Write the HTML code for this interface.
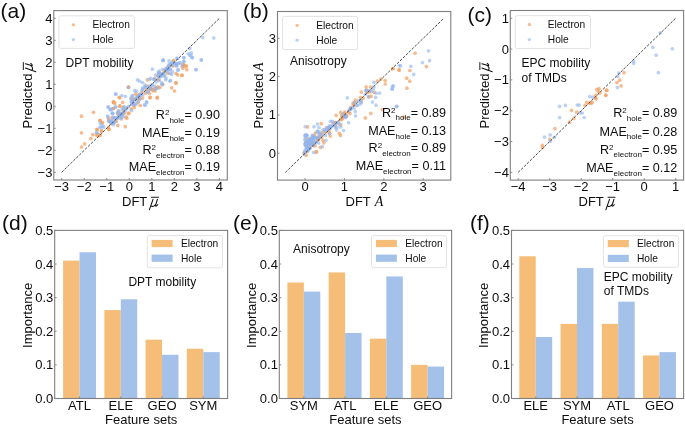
<!DOCTYPE html>
<html><head><meta charset="utf-8"><style>
html,body{margin:0;padding:0;background:#fff;}
svg{display:block;font-family:"Liberation Sans", sans-serif;fill:#0d0d0d;will-change:transform;}
</style></head><body>
<svg width="685" height="425" viewBox="0 0 685 425">
<rect x="53.8" y="10.6" width="173.5" height="169.4" fill="#fff"/>
<rect x="277.5" y="11.5" width="173.3" height="168.6" fill="#fff"/>
<rect x="510.3" y="10.5" width="173.3" height="169.6" fill="#fff"/>
<rect x="54.7" y="230.4" width="172.9" height="168.1" fill="#fff"/>
<rect x="279.3" y="230.4" width="172.3" height="168.1" fill="#fff"/>
<rect x="511.5" y="230.4" width="172.1" height="168.1" fill="#fff"/>
<g fill="#f2a060" fill-opacity="0.7"><circle cx="81.5" cy="116.2" r="1.85"/><circle cx="93.5" cy="112.3" r="1.85"/><circle cx="81.5" cy="132.8" r="1.85"/><circle cx="100" cy="120.5" r="1.85"/><circle cx="97" cy="129.6" r="1.85"/><circle cx="92.8" cy="134.6" r="1.85"/><circle cx="90.8" cy="138.4" r="1.85"/><circle cx="84.7" cy="143.8" r="1.85"/><circle cx="81.5" cy="147" r="1.85"/><circle cx="98.1" cy="136" r="1.85"/><circle cx="101.6" cy="131" r="1.85"/><circle cx="102.4" cy="122.6" r="1.85"/><circle cx="108.7" cy="128.9" r="1.85"/><circle cx="108.7" cy="121.2" r="1.85"/><circle cx="113.4" cy="108.5" r="1.85"/><circle cx="113.6" cy="102.1" r="1.85"/><circle cx="115" cy="118.4" r="1.85"/><circle cx="117.9" cy="114.1" r="1.85"/><circle cx="100.2" cy="135.3" r="1.85"/><circle cx="147.4" cy="79.8" r="1.85"/><circle cx="128.4" cy="86.8" r="1.85"/><circle cx="119.2" cy="97.4" r="1.85"/><circle cx="113.5" cy="102.4" r="1.85"/><circle cx="150.2" cy="97.4" r="1.85"/><circle cx="157.3" cy="97.4" r="1.85"/><circle cx="152.4" cy="89.6" r="1.85"/><circle cx="155.2" cy="88.2" r="1.85"/><circle cx="148.1" cy="86.1" r="1.85"/><circle cx="135.4" cy="93.9" r="1.85"/><circle cx="131.2" cy="98.8" r="1.85"/><circle cx="134" cy="105.2" r="1.85"/><circle cx="119.9" cy="105.9" r="1.85"/><circle cx="128.4" cy="113.6" r="1.85"/><circle cx="126.2" cy="117.2" r="1.85"/><circle cx="158" cy="86.8" r="1.85"/><circle cx="164.4" cy="70.6" r="1.85"/><circle cx="142.5" cy="98.1" r="1.85"/><circle cx="138.2" cy="102.4" r="1.85"/><circle cx="122.7" cy="102.4" r="1.85"/><circle cx="173.8" cy="61" r="1.85"/><circle cx="173" cy="65.9" r="1.85"/><circle cx="186" cy="65.9" r="1.85"/><circle cx="186.8" cy="69.7" r="1.85"/><circle cx="182.9" cy="68.2" r="1.85"/><circle cx="182.9" cy="64.4" r="1.85"/><circle cx="176.1" cy="73.5" r="1.85"/><circle cx="177.6" cy="74.8" r="1.85"/><circle cx="182.2" cy="75.1" r="1.85"/><circle cx="176.1" cy="82.7" r="1.85"/><circle cx="166.9" cy="68.9" r="1.85"/><circle cx="164.6" cy="72" r="1.85"/><circle cx="181.8" cy="75.5" r="1.85"/><circle cx="186.1" cy="66.3" r="1.85"/><circle cx="183.9" cy="64.9" r="1.85"/><circle cx="175.9" cy="83.2" r="1.85"/><circle cx="171.7" cy="87.8" r="1.85"/><circle cx="174.5" cy="91" r="1.85"/><circle cx="157.1" cy="98.1" r="1.85"/><circle cx="155" cy="91" r="1.85"/><circle cx="173.4" cy="60.6" r="1.85"/><circle cx="159.2" cy="73.4" r="1.85"/><circle cx="158.5" cy="80.4" r="1.85"/><circle cx="159.9" cy="87.5" r="1.85"/><circle cx="128.6" cy="87.5" r="1.85"/><circle cx="119.7" cy="97.7" r="1.85"/><circle cx="113.4" cy="101.9" r="1.85"/><circle cx="114.8" cy="103.4" r="1.85"/><circle cx="113.4" cy="108.3" r="1.85"/><circle cx="119.7" cy="106.2" r="1.85"/><circle cx="126.8" cy="118.2" r="1.85"/><circle cx="128.9" cy="113.2" r="1.85"/><circle cx="140.2" cy="105.5" r="1.85"/><circle cx="150" cy="97.7" r="1.85"/><circle cx="149.4" cy="93.5" r="1.85"/><circle cx="108.4" cy="118.9" r="1.85"/><circle cx="111.9" cy="117.5" r="1.85"/><circle cx="117.6" cy="113.2" r="1.85"/><circle cx="99.9" cy="120.3" r="1.85"/><circle cx="102.1" cy="123.1" r="1.85"/><circle cx="97.1" cy="129.4" r="1.85"/><circle cx="101.4" cy="130.9" r="1.85"/><circle cx="108.4" cy="127.4" r="1.85"/><circle cx="109.1" cy="129.5" r="1.85"/><circle cx="98.5" cy="134.4" r="1.85"/><circle cx="96.4" cy="135.1" r="1.85"/><circle cx="133.1" cy="99.1" r="1.85"/><circle cx="137.4" cy="95.6" r="1.85"/><circle cx="152.9" cy="90.6" r="1.85"/><circle cx="150.8" cy="89.2" r="1.85"/><circle cx="134.4" cy="107.4" r="1.85"/><circle cx="117.8" cy="125.4" r="1.85"/><circle cx="146.1" cy="89.9" r="1.85"/><circle cx="145.5" cy="93.3" r="1.85"/><circle cx="111.1" cy="123.4" r="1.85"/><circle cx="116.2" cy="121.2" r="1.85"/><circle cx="139.7" cy="98.8" r="1.85"/><circle cx="123.7" cy="110.5" r="1.85"/><circle cx="156.6" cy="88.0" r="1.85"/><circle cx="135.9" cy="98.8" r="1.85"/><circle cx="182.7" cy="66.2" r="1.85"/><circle cx="131.2" cy="108.9" r="1.85"/><circle cx="121.3" cy="119.0" r="1.85"/><circle cx="167.9" cy="73.3" r="1.85"/><circle cx="118.6" cy="111.1" r="1.85"/><circle cx="133.4" cy="99.7" r="1.85"/><circle cx="148.5" cy="90.7" r="1.85"/><circle cx="124.2" cy="113.3" r="1.85"/><circle cx="154.6" cy="78.6" r="1.85"/><circle cx="151.3" cy="88.3" r="1.85"/><circle cx="139.5" cy="94.6" r="1.85"/><circle cx="162.8" cy="84.4" r="1.85"/><circle cx="123.4" cy="107.3" r="1.85"/><circle cx="168.8" cy="66.0" r="1.85"/><circle cx="158.4" cy="75.6" r="1.85"/><circle cx="125.3" cy="126.7" r="1.85"/><circle cx="138.6" cy="98.7" r="1.85"/><circle cx="141.9" cy="92.1" r="1.85"/></g>
<g fill="#8fb4ee" fill-opacity="0.6"><circle cx="108" cy="107.1" r="1.85"/><circle cx="110.1" cy="109.9" r="1.85"/><circle cx="115.8" cy="107.1" r="1.85"/><circle cx="112.2" cy="113.4" r="1.85"/><circle cx="108" cy="117" r="1.85"/><circle cx="109.4" cy="121.2" r="1.85"/><circle cx="100.2" cy="123.3" r="1.85"/><circle cx="101" cy="126.8" r="1.85"/><circle cx="103" cy="126.1" r="1.85"/><circle cx="97" cy="133.2" r="1.85"/><circle cx="113.6" cy="122.6" r="1.85"/><circle cx="117.2" cy="118.4" r="1.85"/><circle cx="162.9" cy="60.7" r="1.85"/><circle cx="152.4" cy="69.2" r="1.85"/><circle cx="167.9" cy="67.1" r="1.85"/><circle cx="137.5" cy="79.8" r="1.85"/><circle cx="139.6" cy="81.2" r="1.85"/><circle cx="142.5" cy="82.6" r="1.85"/><circle cx="128.4" cy="87.5" r="1.85"/><circle cx="115.6" cy="93.9" r="1.85"/><circle cx="134.7" cy="90.4" r="1.85"/><circle cx="142.5" cy="88.9" r="1.85"/><circle cx="150.9" cy="78.4" r="1.85"/><circle cx="152.4" cy="84.7" r="1.85"/><circle cx="159.4" cy="72.7" r="1.85"/><circle cx="162.2" cy="84" r="1.85"/><circle cx="159.4" cy="79.8" r="1.85"/><circle cx="145.3" cy="87.5" r="1.85"/><circle cx="146.7" cy="102.4" r="1.85"/><circle cx="145.3" cy="105.2" r="1.85"/><circle cx="124.1" cy="106.6" r="1.85"/><circle cx="126.9" cy="108" r="1.85"/><circle cx="111.4" cy="109.4" r="1.85"/><circle cx="112.8" cy="113.6" r="1.85"/><circle cx="122.7" cy="115.1" r="1.85"/><circle cx="131.2" cy="101" r="1.85"/><circle cx="138.2" cy="96.7" r="1.85"/><circle cx="140.4" cy="95.3" r="1.85"/><circle cx="148.1" cy="91.8" r="1.85"/><circle cx="155.2" cy="89.6" r="1.85"/><circle cx="165.8" cy="79.8" r="1.85"/><circle cx="118.5" cy="110.8" r="1.85"/><circle cx="202.8" cy="37.6" r="1.85"/><circle cx="213.8" cy="37.9" r="1.85"/><circle cx="189.8" cy="48.3" r="1.85"/><circle cx="188.3" cy="53.6" r="1.85"/><circle cx="191.4" cy="52.9" r="1.85"/><circle cx="192.1" cy="57.5" r="1.85"/><circle cx="189.8" cy="55.2" r="1.85"/><circle cx="163.1" cy="60.1" r="1.85"/><circle cx="183.7" cy="57.5" r="1.85"/><circle cx="183.7" cy="61.6" r="1.85"/><circle cx="201.3" cy="59.8" r="1.85"/><circle cx="195.9" cy="69.7" r="1.85"/><circle cx="176.8" cy="58.2" r="1.85"/><circle cx="179.1" cy="62.8" r="1.85"/><circle cx="176.8" cy="65.9" r="1.85"/><circle cx="168.4" cy="65.9" r="1.85"/><circle cx="170.7" cy="64.4" r="1.85"/><circle cx="182.2" cy="65.9" r="1.85"/><circle cx="178.4" cy="69.7" r="1.85"/><circle cx="169.9" cy="73.5" r="1.85"/><circle cx="171.5" cy="74.3" r="1.85"/><circle cx="166.1" cy="78.1" r="1.85"/><circle cx="169.9" cy="81.2" r="1.85"/><circle cx="162.3" cy="73.5" r="1.85"/><circle cx="160.8" cy="76.6" r="1.85"/><circle cx="163.8" cy="75.8" r="1.85"/><circle cx="161.5" cy="82.7" r="1.85"/><circle cx="196" cy="69.5" r="1.85"/><circle cx="201.3" cy="60" r="1.85"/><circle cx="163.2" cy="60.2" r="1.85"/><circle cx="177.6" cy="58.5" r="1.85"/><circle cx="183.9" cy="57.8" r="1.85"/><circle cx="183.9" cy="61.4" r="1.85"/><circle cx="191" cy="55.7" r="1.85"/><circle cx="192.4" cy="57.8" r="1.85"/><circle cx="178.3" cy="63.5" r="1.85"/><circle cx="180.4" cy="62.8" r="1.85"/><circle cx="176.2" cy="65.6" r="1.85"/><circle cx="170.5" cy="69.8" r="1.85"/><circle cx="172.6" cy="71.9" r="1.85"/><circle cx="177.6" cy="70.2" r="1.85"/><circle cx="170.5" cy="80.4" r="1.85"/><circle cx="162" cy="84.6" r="1.85"/><circle cx="157.8" cy="88.2" r="1.85"/><circle cx="115.9" cy="94.2" r="1.85"/><circle cx="121.8" cy="95.6" r="1.85"/><circle cx="125.4" cy="96.3" r="1.85"/><circle cx="108.4" cy="106.9" r="1.85"/><circle cx="110.5" cy="109" r="1.85"/><circle cx="112.6" cy="113.2" r="1.85"/><circle cx="115.5" cy="106.9" r="1.85"/><circle cx="131.7" cy="110.4" r="1.85"/><circle cx="132.4" cy="95.6" r="1.85"/><circle cx="136.6" cy="91.4" r="1.85"/><circle cx="143" cy="87.8" r="1.85"/><circle cx="146.5" cy="101.9" r="1.85"/><circle cx="144.4" cy="104.8" r="1.85"/><circle cx="107.7" cy="116.1" r="1.85"/><circle cx="109.1" cy="121" r="1.85"/><circle cx="99.9" cy="127.4" r="1.85"/><circle cx="103.5" cy="127.4" r="1.85"/><circle cx="96.4" cy="132.3" r="1.85"/><circle cx="114.1" cy="123.1" r="1.85"/><circle cx="111.5" cy="120.8" r="1.85"/><circle cx="145.2" cy="86.1" r="1.85"/><circle cx="166.0" cy="68.3" r="1.85"/><circle cx="150.7" cy="88.9" r="1.85"/><circle cx="145.2" cy="85.2" r="1.85"/><circle cx="172.1" cy="65.5" r="1.85"/><circle cx="140.6" cy="94.3" r="1.85"/><circle cx="155.2" cy="79.7" r="1.85"/><circle cx="154.7" cy="86.2" r="1.85"/><circle cx="128.5" cy="106.4" r="1.85"/><circle cx="135.0" cy="99.9" r="1.85"/><circle cx="139.8" cy="95.0" r="1.85"/><circle cx="121.4" cy="114.2" r="1.85"/><circle cx="160.3" cy="76.3" r="1.85"/><circle cx="118.6" cy="116.3" r="1.85"/><circle cx="168.0" cy="70.8" r="1.85"/><circle cx="113.7" cy="117.6" r="1.85"/><circle cx="167.9" cy="69.2" r="1.85"/><circle cx="164.0" cy="73.5" r="1.85"/><circle cx="136.2" cy="97.4" r="1.85"/><circle cx="136.0" cy="104.5" r="1.85"/><circle cx="117.6" cy="112.5" r="1.85"/><circle cx="121.7" cy="113.4" r="1.85"/><circle cx="142.6" cy="94.9" r="1.85"/><circle cx="148.3" cy="87.2" r="1.85"/><circle cx="137.4" cy="98.1" r="1.85"/><circle cx="130.9" cy="97.9" r="1.85"/><circle cx="153.5" cy="79.4" r="1.85"/><circle cx="142.0" cy="90.3" r="1.85"/><circle cx="112.3" cy="119.6" r="1.85"/><circle cx="169.0" cy="68.2" r="1.85"/><circle cx="159.1" cy="71.2" r="1.85"/><circle cx="135.1" cy="99.1" r="1.85"/><circle cx="151.6" cy="84.8" r="1.85"/><circle cx="115.1" cy="121.4" r="1.85"/><circle cx="121.1" cy="114.6" r="1.85"/><circle cx="132.2" cy="103.0" r="1.85"/><circle cx="120.0" cy="114.9" r="1.85"/><circle cx="116.5" cy="117.8" r="1.85"/><circle cx="167.0" cy="69.5" r="1.85"/><circle cx="150.6" cy="86.3" r="1.85"/><circle cx="133.5" cy="103.4" r="1.85"/><circle cx="135.7" cy="103.4" r="1.85"/><circle cx="176.4" cy="63.7" r="1.85"/><circle cx="139.8" cy="94.4" r="1.85"/><circle cx="116.9" cy="118.1" r="1.85"/><circle cx="132.1" cy="102.6" r="1.85"/><circle cx="123.2" cy="116.9" r="1.85"/><circle cx="113.3" cy="124.7" r="1.85"/><circle cx="119.1" cy="114.7" r="1.85"/><circle cx="147.0" cy="91.9" r="1.85"/><circle cx="173.8" cy="63.0" r="1.85"/><circle cx="165.7" cy="69.6" r="1.85"/><circle cx="132.9" cy="100.2" r="1.85"/><circle cx="121.2" cy="114.1" r="1.85"/><circle cx="158.9" cy="73.5" r="1.85"/><circle cx="132.0" cy="104.1" r="1.85"/><circle cx="176.5" cy="64.8" r="1.85"/><circle cx="166.3" cy="71.5" r="1.85"/><circle cx="155.7" cy="75.2" r="1.85"/><circle cx="123.6" cy="108.8" r="1.85"/><circle cx="111.9" cy="122.5" r="1.85"/><circle cx="111.8" cy="122.5" r="1.85"/><circle cx="156.1" cy="81.8" r="1.85"/><circle cx="169.0" cy="60.9" r="1.85"/><circle cx="175.2" cy="63.2" r="1.85"/><circle cx="171.4" cy="63.5" r="1.85"/><circle cx="125.6" cy="110.9" r="1.85"/><circle cx="123.5" cy="112.6" r="1.85"/><circle cx="170.4" cy="69.5" r="1.85"/><circle cx="162.6" cy="69.3" r="1.85"/><circle cx="162.2" cy="74.2" r="1.85"/><circle cx="114.0" cy="117.4" r="1.85"/><circle cx="158.3" cy="72.4" r="1.85"/><circle cx="157.9" cy="76.2" r="1.85"/><circle cx="161.4" cy="74.7" r="1.85"/><circle cx="132.9" cy="104.7" r="1.85"/><circle cx="132.3" cy="95.8" r="1.85"/><circle cx="138.3" cy="101.3" r="1.85"/><circle cx="120.4" cy="113.0" r="1.85"/><circle cx="120.2" cy="118.2" r="1.85"/><circle cx="164.9" cy="76.0" r="1.85"/><circle cx="121.4" cy="117.1" r="1.85"/><circle cx="149.3" cy="79.4" r="1.85"/><circle cx="132.2" cy="101.6" r="1.85"/><circle cx="110.9" cy="123.3" r="1.85"/><circle cx="172.1" cy="62.1" r="1.85"/><circle cx="169.3" cy="64.1" r="1.85"/><circle cx="140.1" cy="98.9" r="1.85"/><circle cx="122.0" cy="109.2" r="1.85"/><circle cx="126.2" cy="108.3" r="1.85"/><circle cx="149.2" cy="88.4" r="1.85"/></g>
<g fill="#f2a060" fill-opacity="0.7"><circle cx="307.6" cy="126.9" r="1.85"/><circle cx="321.3" cy="123.7" r="1.85"/><circle cx="327.8" cy="127.6" r="1.85"/><circle cx="329.5" cy="133.3" r="1.85"/><circle cx="330.2" cy="136.1" r="1.85"/><circle cx="323.9" cy="142.8" r="1.85"/><circle cx="320.4" cy="147.4" r="1.85"/><circle cx="339.4" cy="133.3" r="1.85"/><circle cx="340.5" cy="135.4" r="1.85"/><circle cx="340.8" cy="124.8" r="1.85"/><circle cx="333.8" cy="122.7" r="1.85"/><circle cx="344.4" cy="113.5" r="1.85"/><circle cx="346.5" cy="116.4" r="1.85"/><circle cx="342.2" cy="117.1" r="1.85"/><circle cx="321.8" cy="137.5" r="1.85"/><circle cx="392.9" cy="68.5" r="1.85"/><circle cx="399" cy="69.9" r="1.85"/><circle cx="377.4" cy="81.2" r="1.85"/><circle cx="380.9" cy="79.1" r="1.85"/><circle cx="385.2" cy="80.5" r="1.85"/><circle cx="385.2" cy="84" r="1.85"/><circle cx="366.8" cy="92.5" r="1.85"/><circle cx="369.6" cy="91.8" r="1.85"/><circle cx="368.9" cy="96.7" r="1.85"/><circle cx="363.3" cy="98.1" r="1.85"/><circle cx="361.2" cy="100.9" r="1.85"/><circle cx="355.5" cy="100.2" r="1.85"/><circle cx="354.1" cy="102.4" r="1.85"/><circle cx="382.4" cy="109.7" r="1.85"/><circle cx="370.8" cy="113.4" r="1.85"/><circle cx="365.4" cy="117.9" r="1.85"/><circle cx="349.9" cy="113.6" r="1.85"/><circle cx="344.9" cy="113.6" r="1.85"/><circle cx="342.8" cy="116.5" r="1.85"/><circle cx="346.4" cy="115.8" r="1.85"/><circle cx="415.1" cy="53.2" r="1.85"/><circle cx="426.4" cy="66.6" r="1.85"/><circle cx="392.8" cy="68.7" r="1.85"/><circle cx="399.2" cy="70.1" r="1.85"/><circle cx="409.8" cy="70.5" r="1.85"/><circle cx="406.7" cy="78.2" r="1.85"/><circle cx="409.8" cy="81.2" r="1.85"/><circle cx="406.9" cy="88.2" r="1.85"/><circle cx="403.4" cy="117.2" r="1.85"/><circle cx="311.8" cy="141.7" r="1.85"/><circle cx="318.5" cy="139.7" r="1.85"/><circle cx="308.3" cy="141.8" r="1.85"/><circle cx="309.3" cy="144.6" r="1.85"/><circle cx="314.2" cy="142.6" r="1.85"/><circle cx="313.8" cy="135.6" r="1.85"/><circle cx="305.5" cy="143.2" r="1.85"/><circle cx="317.5" cy="139.7" r="1.85"/><circle cx="305.5" cy="144.9" r="1.85"/><circle cx="307.0" cy="138.7" r="1.85"/><circle cx="307.4" cy="151.6" r="1.85"/><circle cx="312.1" cy="143.5" r="1.85"/><circle cx="309.1" cy="147.8" r="1.85"/><circle cx="318.1" cy="139.4" r="1.85"/><circle cx="317.5" cy="137.2" r="1.85"/><circle cx="325.9" cy="131.8" r="1.85"/><circle cx="308.7" cy="148.3" r="1.85"/><circle cx="313.2" cy="145.1" r="1.85"/><circle cx="322.8" cy="132.2" r="1.85"/><circle cx="306.0" cy="155.3" r="1.85"/><circle cx="329.0" cy="131.0" r="1.85"/><circle cx="328.3" cy="128.9" r="1.85"/><circle cx="321.2" cy="134.3" r="1.85"/><circle cx="319.8" cy="136.7" r="1.85"/><circle cx="336.7" cy="122.8" r="1.85"/><circle cx="316.1" cy="152.1" r="1.85"/><circle cx="304.0" cy="152.8" r="1.85"/><circle cx="323.0" cy="140.3" r="1.85"/><circle cx="315.3" cy="133.1" r="1.85"/><circle cx="315.0" cy="145.9" r="1.85"/><circle cx="316.6" cy="151.7" r="1.85"/><circle cx="336.2" cy="115.4" r="1.85"/><circle cx="371.0" cy="96.3" r="1.85"/><circle cx="361.3" cy="92.0" r="1.85"/><circle cx="366.1" cy="86.8" r="1.85"/><circle cx="353.9" cy="105.2" r="1.85"/><circle cx="360.6" cy="97.6" r="1.85"/><circle cx="350.2" cy="109.2" r="1.85"/><circle cx="340.7" cy="112.4" r="1.85"/><circle cx="335.3" cy="125.6" r="1.85"/><circle cx="350.5" cy="107.8" r="1.85"/><circle cx="344.9" cy="112.2" r="1.85"/><circle cx="374.2" cy="92.3" r="1.85"/><circle cx="341.7" cy="115.4" r="1.85"/><circle cx="352.9" cy="103.5" r="1.85"/><circle cx="348.6" cy="111.9" r="1.85"/><circle cx="341.7" cy="119.6" r="1.85"/><circle cx="366.7" cy="90.1" r="1.85"/><circle cx="368.2" cy="91.6" r="1.85"/><circle cx="370.6" cy="87.0" r="1.85"/><circle cx="340.4" cy="119.4" r="1.85"/><circle cx="335.5" cy="122.5" r="1.85"/><circle cx="342.6" cy="118.1" r="1.85"/></g>
<g fill="#8fb4ee" fill-opacity="0.6"><circle cx="305.2" cy="126.7" r="1.85"/><circle cx="314" cy="126.7" r="1.85"/><circle cx="317.5" cy="124.1" r="1.85"/><circle cx="318.9" cy="127.6" r="1.85"/><circle cx="323.2" cy="129.8" r="1.85"/><circle cx="317.5" cy="131.2" r="1.85"/><circle cx="306.9" cy="135.4" r="1.85"/><circle cx="326" cy="140.4" r="1.85"/><circle cx="322.5" cy="146.7" r="1.85"/><circle cx="313.7" cy="152.4" r="1.85"/><circle cx="333.8" cy="125.5" r="1.85"/><circle cx="336.6" cy="129.8" r="1.85"/><circle cx="343.6" cy="130.5" r="1.85"/><circle cx="340.8" cy="127" r="1.85"/><circle cx="348.6" cy="122.7" r="1.85"/><circle cx="332.4" cy="121.3" r="1.85"/><circle cx="335.2" cy="124.1" r="1.85"/><circle cx="373.9" cy="82.3" r="1.85"/><circle cx="373.9" cy="86.8" r="1.85"/><circle cx="393.4" cy="86.1" r="1.85"/><circle cx="392.2" cy="88.9" r="1.85"/><circle cx="376" cy="93.2" r="1.85"/><circle cx="379.5" cy="93.2" r="1.85"/><circle cx="375.6" cy="97.4" r="1.85"/><circle cx="372.5" cy="102.1" r="1.85"/><circle cx="376" cy="105.2" r="1.85"/><circle cx="347.3" cy="97.8" r="1.85"/><circle cx="358.4" cy="100.9" r="1.85"/><circle cx="360.5" cy="103.8" r="1.85"/><circle cx="357.6" cy="105.2" r="1.85"/><circle cx="361.2" cy="102.4" r="1.85"/><circle cx="351.3" cy="107.3" r="1.85"/><circle cx="350.6" cy="109.4" r="1.85"/><circle cx="348.5" cy="110.8" r="1.85"/><circle cx="355.5" cy="115.8" r="1.85"/><circle cx="396.5" cy="106.6" r="1.85"/><circle cx="399.3" cy="65.6" r="1.85"/><circle cx="428.5" cy="50.8" r="1.85"/><circle cx="429.5" cy="60.7" r="1.85"/><circle cx="422.5" cy="62.6" r="1.85"/><circle cx="400.6" cy="65.9" r="1.85"/><circle cx="410.9" cy="66.3" r="1.85"/><circle cx="413.7" cy="74.4" r="1.85"/><circle cx="392.5" cy="86.1" r="1.85"/><circle cx="392.1" cy="88.9" r="1.85"/><circle cx="396.8" cy="106.3" r="1.85"/><circle cx="306.1" cy="135.5" r="1.85"/><circle cx="312.5" cy="139.0" r="1.85"/><circle cx="306.2" cy="144.6" r="1.85"/><circle cx="305.9" cy="141.6" r="1.85"/><circle cx="312.7" cy="135.9" r="1.85"/><circle cx="304.8" cy="143.9" r="1.85"/><circle cx="307.7" cy="142.5" r="1.85"/><circle cx="312.8" cy="142.5" r="1.85"/><circle cx="312.3" cy="140.9" r="1.85"/><circle cx="313.6" cy="138.5" r="1.85"/><circle cx="314.3" cy="142.2" r="1.85"/><circle cx="313.1" cy="141.0" r="1.85"/><circle cx="308.7" cy="141.5" r="1.85"/><circle cx="313.2" cy="137.7" r="1.85"/><circle cx="309.9" cy="139.2" r="1.85"/><circle cx="306.7" cy="146.5" r="1.85"/><circle cx="306.9" cy="135.2" r="1.85"/><circle cx="312.2" cy="144.1" r="1.85"/><circle cx="308.7" cy="148.9" r="1.85"/><circle cx="316.2" cy="140.8" r="1.85"/><circle cx="306.3" cy="148.6" r="1.85"/><circle cx="317.0" cy="138.2" r="1.85"/><circle cx="305.1" cy="152.0" r="1.85"/><circle cx="305.3" cy="138.1" r="1.85"/><circle cx="313.0" cy="137.6" r="1.85"/><circle cx="310.4" cy="138.0" r="1.85"/><circle cx="310.1" cy="144.9" r="1.85"/><circle cx="304.8" cy="139.8" r="1.85"/><circle cx="312.2" cy="135.3" r="1.85"/><circle cx="310.3" cy="148.3" r="1.85"/><circle cx="313.0" cy="138.0" r="1.85"/><circle cx="304.8" cy="135.5" r="1.85"/><circle cx="305.0" cy="150.1" r="1.85"/><circle cx="306.8" cy="147.0" r="1.85"/><circle cx="306.1" cy="141.5" r="1.85"/><circle cx="305.9" cy="136.0" r="1.85"/><circle cx="309.7" cy="140.5" r="1.85"/><circle cx="305.5" cy="152.1" r="1.85"/><circle cx="314.6" cy="137.7" r="1.85"/><circle cx="305.6" cy="134.8" r="1.85"/><circle cx="308.0" cy="143.7" r="1.85"/><circle cx="319.5" cy="137.0" r="1.85"/><circle cx="319.6" cy="137.2" r="1.85"/><circle cx="310.4" cy="139.3" r="1.85"/><circle cx="305.8" cy="144.4" r="1.85"/><circle cx="306.8" cy="147.1" r="1.85"/><circle cx="308.7" cy="139.7" r="1.85"/><circle cx="307.3" cy="149.7" r="1.85"/><circle cx="308.0" cy="150.1" r="1.85"/><circle cx="309.8" cy="142.8" r="1.85"/><circle cx="310.2" cy="143.5" r="1.85"/><circle cx="329.6" cy="125.9" r="1.85"/><circle cx="326.5" cy="129.5" r="1.85"/><circle cx="314.4" cy="136.5" r="1.85"/><circle cx="316.0" cy="142.8" r="1.85"/><circle cx="329.5" cy="127.7" r="1.85"/><circle cx="329.5" cy="133.6" r="1.85"/><circle cx="336.5" cy="122.7" r="1.85"/><circle cx="325.8" cy="130.9" r="1.85"/><circle cx="305.6" cy="145.6" r="1.85"/><circle cx="319.4" cy="131.9" r="1.85"/><circle cx="332.4" cy="124.9" r="1.85"/><circle cx="330.5" cy="121.3" r="1.85"/><circle cx="326.5" cy="127.6" r="1.85"/><circle cx="328.5" cy="129.0" r="1.85"/><circle cx="308.5" cy="149.1" r="1.85"/><circle cx="318.7" cy="143.0" r="1.85"/><circle cx="325.4" cy="135.5" r="1.85"/><circle cx="324.5" cy="129.6" r="1.85"/><circle cx="319.4" cy="134.4" r="1.85"/><circle cx="304.2" cy="154.1" r="1.85"/><circle cx="319.1" cy="133.1" r="1.85"/><circle cx="322.4" cy="134.2" r="1.85"/><circle cx="329.6" cy="126.9" r="1.85"/><circle cx="313.6" cy="145.6" r="1.85"/><circle cx="330.3" cy="128.2" r="1.85"/><circle cx="310.5" cy="145.9" r="1.85"/><circle cx="317.1" cy="131.7" r="1.85"/><circle cx="314.9" cy="137.5" r="1.85"/><circle cx="331.5" cy="126.6" r="1.85"/><circle cx="356.7" cy="105.5" r="1.85"/><circle cx="371.6" cy="91.5" r="1.85"/><circle cx="338.5" cy="122.3" r="1.85"/><circle cx="365.5" cy="90.4" r="1.85"/><circle cx="360.6" cy="99.9" r="1.85"/><circle cx="355.3" cy="111.6" r="1.85"/><circle cx="335.4" cy="127.6" r="1.85"/><circle cx="350.2" cy="109.2" r="1.85"/><circle cx="345.3" cy="115.9" r="1.85"/><circle cx="346.1" cy="115.6" r="1.85"/><circle cx="368.4" cy="97.1" r="1.85"/><circle cx="365.5" cy="94.2" r="1.85"/><circle cx="339.6" cy="124.4" r="1.85"/><circle cx="366.7" cy="90.5" r="1.85"/><circle cx="342.6" cy="114.1" r="1.85"/><circle cx="373.0" cy="89.3" r="1.85"/><circle cx="354.5" cy="102.6" r="1.85"/><circle cx="344.7" cy="117.3" r="1.85"/><circle cx="337.0" cy="127.3" r="1.85"/><circle cx="345.6" cy="117.5" r="1.85"/><circle cx="369.3" cy="90.5" r="1.85"/><circle cx="353.9" cy="108.2" r="1.85"/></g>
<g fill="#f2a060" fill-opacity="0.7"><circle cx="596.8" cy="89.4" r="1.85"/><circle cx="599.1" cy="88.5" r="1.85"/><circle cx="598.5" cy="91.2" r="1.85"/><circle cx="599.7" cy="92.9" r="1.85"/><circle cx="606.8" cy="90.4" r="1.85"/><circle cx="605.9" cy="95.1" r="1.85"/><circle cx="595.6" cy="95.3" r="1.85"/><circle cx="596.2" cy="98.8" r="1.85"/><circle cx="586.8" cy="102.4" r="1.85"/><circle cx="585" cy="105.3" r="1.85"/><circle cx="589.7" cy="102.9" r="1.85"/><circle cx="592.1" cy="102.4" r="1.85"/><circle cx="590.9" cy="103.5" r="1.85"/><circle cx="571.5" cy="110.3" r="1.85"/><circle cx="576.8" cy="112.2" r="1.85"/><circle cx="573.8" cy="118.4" r="1.85"/><circle cx="569.5" cy="122.2" r="1.85"/><circle cx="554.9" cy="128.6" r="1.85"/><circle cx="549.9" cy="139.3" r="1.85"/><circle cx="542.3" cy="145.4" r="1.85"/><circle cx="542.6" cy="147.5" r="1.85"/><circle cx="624" cy="72.7" r="1.85"/><circle cx="619.8" cy="80.2" r="1.85"/><circle cx="617" cy="82.5" r="1.85"/><circle cx="621.1" cy="85.9" r="1.85"/><circle cx="606.6" cy="90.2" r="1.85"/><circle cx="605.7" cy="95.3" r="1.85"/><circle cx="595.4" cy="98.1" r="1.85"/></g>
<g fill="#8fb4ee" fill-opacity="0.6"><circle cx="559.6" cy="106.4" r="1.85"/><circle cx="565.4" cy="105.4" r="1.85"/><circle cx="577.3" cy="105" r="1.85"/><circle cx="579.2" cy="105" r="1.85"/><circle cx="559.6" cy="117.6" r="1.85"/><circle cx="580.2" cy="112.7" r="1.85"/><circle cx="582.2" cy="113" r="1.85"/><circle cx="584.2" cy="117.5" r="1.85"/><circle cx="544.6" cy="137.2" r="1.85"/><circle cx="550.1" cy="134.9" r="1.85"/><circle cx="554.4" cy="137.3" r="1.85"/><circle cx="550.3" cy="141.2" r="1.85"/><circle cx="589.7" cy="96.6" r="1.85"/><circle cx="592.5" cy="97.1" r="1.85"/><circle cx="660.3" cy="32.8" r="1.85"/><circle cx="652.8" cy="47.3" r="1.85"/><circle cx="656.2" cy="55.2" r="1.85"/><circle cx="658.4" cy="72.7" r="1.85"/><circle cx="633.6" cy="61" r="1.85"/><circle cx="633.6" cy="63.3" r="1.85"/><circle cx="618.9" cy="73.1" r="1.85"/><circle cx="617.9" cy="76.5" r="1.85"/><circle cx="617.4" cy="87.4" r="1.85"/><circle cx="672.3" cy="48.8" r="1.85"/></g>
<line x1="61.69" y1="172.3" x2="219.41" y2="18.3" stroke="#404040" stroke-width="0.95" stroke-dasharray="2.7 1.4"/>
<line x1="285.38" y1="172.44" x2="442.92" y2="19.16" stroke="#404040" stroke-width="0.95" stroke-dasharray="2.7 1.4"/>
<line x1="518.18" y1="172.39" x2="675.72" y2="18.21" stroke="#404040" stroke-width="0.95" stroke-dasharray="2.7 1.4"/>
<rect x="63.1" y="260.66" width="16.45" height="137.84" fill="#f5bd77"/>
<rect x="79.55" y="252.25" width="16.45" height="146.25" fill="#a3c1e9"/>
<rect x="104.35" y="310.08" width="16.45" height="88.42" fill="#f5bd77"/>
<rect x="120.8" y="299.32" width="16.45" height="99.18" fill="#a3c1e9"/>
<rect x="145.6" y="339.67" width="16.45" height="58.83" fill="#f5bd77"/>
<rect x="162.05" y="354.79" width="16.45" height="43.71" fill="#a3c1e9"/>
<rect x="186.85" y="348.74" width="16.45" height="49.76" fill="#f5bd77"/>
<rect x="203.3" y="352.1" width="16.45" height="46.4" fill="#a3c1e9"/>
<rect x="287.4" y="282.51" width="16.45" height="115.99" fill="#f5bd77"/>
<rect x="303.85" y="291.59" width="16.45" height="106.91" fill="#a3c1e9"/>
<rect x="328.65" y="272.43" width="16.45" height="126.07" fill="#f5bd77"/>
<rect x="345.1" y="332.94" width="16.45" height="65.56" fill="#a3c1e9"/>
<rect x="369.9" y="338.66" width="16.45" height="59.84" fill="#f5bd77"/>
<rect x="386.35" y="276.46" width="16.45" height="122.04" fill="#a3c1e9"/>
<rect x="411.15" y="364.88" width="16.45" height="33.62" fill="#f5bd77"/>
<rect x="427.6" y="366.56" width="16.45" height="31.94" fill="#a3c1e9"/>
<rect x="519.3" y="256.29" width="16.45" height="142.21" fill="#f5bd77"/>
<rect x="535.75" y="336.98" width="16.45" height="61.52" fill="#a3c1e9"/>
<rect x="560.55" y="323.86" width="16.45" height="74.64" fill="#f5bd77"/>
<rect x="577" y="268.05" width="16.45" height="130.45" fill="#a3c1e9"/>
<rect x="601.8" y="323.86" width="16.45" height="74.64" fill="#f5bd77"/>
<rect x="618.25" y="301.67" width="16.45" height="96.83" fill="#a3c1e9"/>
<rect x="643.05" y="355.47" width="16.45" height="43.03" fill="#f5bd77"/>
<rect x="659.5" y="352.1" width="16.45" height="46.4" fill="#a3c1e9"/>
<rect x="53.8" y="10.6" width="173.5" height="169.4" fill="none" stroke="#7f7f7f" stroke-width="1.1"/>
<rect x="277.5" y="11.5" width="173.3" height="168.6" fill="none" stroke="#7f7f7f" stroke-width="1.1"/>
<rect x="510.3" y="10.5" width="173.3" height="169.6" fill="none" stroke="#7f7f7f" stroke-width="1.1"/>
<rect x="54.7" y="230.4" width="172.9" height="168.1" fill="none" stroke="#7f7f7f" stroke-width="1.1"/>
<rect x="279.3" y="230.4" width="172.3" height="168.1" fill="none" stroke="#7f7f7f" stroke-width="1.1"/>
<rect x="511.5" y="230.4" width="172.1" height="168.1" fill="none" stroke="#7f7f7f" stroke-width="1.1"/>
<line x1="61.69" y1="180" x2="61.69" y2="178" stroke="#7f7f7f" stroke-width="0.9"/>
<text x="61.69" y="191.3" font-size="13" text-anchor="middle">−3</text>
<line x1="84.22" y1="180" x2="84.22" y2="178" stroke="#7f7f7f" stroke-width="0.9"/>
<text x="84.22" y="191.3" font-size="13" text-anchor="middle">−2</text>
<line x1="106.75" y1="180" x2="106.75" y2="178" stroke="#7f7f7f" stroke-width="0.9"/>
<text x="106.75" y="191.3" font-size="13" text-anchor="middle">−1</text>
<line x1="129.28" y1="180" x2="129.28" y2="178" stroke="#7f7f7f" stroke-width="0.9"/>
<text x="129.28" y="191.3" font-size="13" text-anchor="middle">0</text>
<line x1="151.82" y1="180" x2="151.82" y2="178" stroke="#7f7f7f" stroke-width="0.9"/>
<text x="151.82" y="191.3" font-size="13" text-anchor="middle">1</text>
<line x1="174.35" y1="180" x2="174.35" y2="178" stroke="#7f7f7f" stroke-width="0.9"/>
<text x="174.35" y="191.3" font-size="13" text-anchor="middle">2</text>
<line x1="196.88" y1="180" x2="196.88" y2="178" stroke="#7f7f7f" stroke-width="0.9"/>
<text x="196.88" y="191.3" font-size="13" text-anchor="middle">3</text>
<line x1="219.41" y1="180" x2="219.41" y2="178" stroke="#7f7f7f" stroke-width="0.9"/>
<text x="219.41" y="191.3" font-size="13" text-anchor="middle">4</text>
<line x1="53.8" y1="172.3" x2="55.8" y2="172.3" stroke="#7f7f7f" stroke-width="0.9"/>
<text x="52.4" y="176.8" font-size="13" text-anchor="end">−3</text>
<line x1="53.8" y1="150.3" x2="55.8" y2="150.3" stroke="#7f7f7f" stroke-width="0.9"/>
<text x="52.4" y="154.8" font-size="13" text-anchor="end">−2</text>
<line x1="53.8" y1="128.3" x2="55.8" y2="128.3" stroke="#7f7f7f" stroke-width="0.9"/>
<text x="52.4" y="132.8" font-size="13" text-anchor="end">−1</text>
<line x1="53.8" y1="106.3" x2="55.8" y2="106.3" stroke="#7f7f7f" stroke-width="0.9"/>
<text x="52.4" y="110.8" font-size="13" text-anchor="end">0</text>
<line x1="53.8" y1="84.3" x2="55.8" y2="84.3" stroke="#7f7f7f" stroke-width="0.9"/>
<text x="52.4" y="88.8" font-size="13" text-anchor="end">1</text>
<line x1="53.8" y1="62.3" x2="55.8" y2="62.3" stroke="#7f7f7f" stroke-width="0.9"/>
<text x="52.4" y="66.8" font-size="13" text-anchor="end">2</text>
<line x1="53.8" y1="40.3" x2="55.8" y2="40.3" stroke="#7f7f7f" stroke-width="0.9"/>
<text x="52.4" y="44.8" font-size="13" text-anchor="end">3</text>
<line x1="53.8" y1="18.3" x2="55.8" y2="18.3" stroke="#7f7f7f" stroke-width="0.9"/>
<text x="52.4" y="22.8" font-size="13" text-anchor="end">4</text>
<line x1="305.07" y1="180.1" x2="305.07" y2="178.1" stroke="#7f7f7f" stroke-width="0.9"/>
<text x="305.07" y="191.4" font-size="13" text-anchor="middle">0</text>
<line x1="344.46" y1="180.1" x2="344.46" y2="178.1" stroke="#7f7f7f" stroke-width="0.9"/>
<text x="344.46" y="191.4" font-size="13" text-anchor="middle">1</text>
<line x1="383.84" y1="180.1" x2="383.84" y2="178.1" stroke="#7f7f7f" stroke-width="0.9"/>
<text x="383.84" y="191.4" font-size="13" text-anchor="middle">2</text>
<line x1="423.23" y1="180.1" x2="423.23" y2="178.1" stroke="#7f7f7f" stroke-width="0.9"/>
<text x="423.23" y="191.4" font-size="13" text-anchor="middle">3</text>
<line x1="277.5" y1="153.28" x2="279.5" y2="153.28" stroke="#7f7f7f" stroke-width="0.9"/>
<text x="276.1" y="157.78" font-size="13" text-anchor="end">0</text>
<line x1="277.5" y1="114.96" x2="279.5" y2="114.96" stroke="#7f7f7f" stroke-width="0.9"/>
<text x="276.1" y="119.46" font-size="13" text-anchor="end">1</text>
<line x1="277.5" y1="76.64" x2="279.5" y2="76.64" stroke="#7f7f7f" stroke-width="0.9"/>
<text x="276.1" y="81.14" font-size="13" text-anchor="end">2</text>
<line x1="277.5" y1="38.32" x2="279.5" y2="38.32" stroke="#7f7f7f" stroke-width="0.9"/>
<text x="276.1" y="42.82" font-size="13" text-anchor="end">3</text>
<line x1="518.18" y1="180.1" x2="518.18" y2="178.1" stroke="#7f7f7f" stroke-width="0.9"/>
<text x="518.18" y="191.4" font-size="13" text-anchor="middle">−4</text>
<line x1="549.69" y1="180.1" x2="549.69" y2="178.1" stroke="#7f7f7f" stroke-width="0.9"/>
<text x="549.69" y="191.4" font-size="13" text-anchor="middle">−3</text>
<line x1="581.2" y1="180.1" x2="581.2" y2="178.1" stroke="#7f7f7f" stroke-width="0.9"/>
<text x="581.2" y="191.4" font-size="13" text-anchor="middle">−2</text>
<line x1="612.7" y1="180.1" x2="612.7" y2="178.1" stroke="#7f7f7f" stroke-width="0.9"/>
<text x="612.7" y="191.4" font-size="13" text-anchor="middle">−1</text>
<line x1="644.21" y1="180.1" x2="644.21" y2="178.1" stroke="#7f7f7f" stroke-width="0.9"/>
<text x="644.21" y="191.4" font-size="13" text-anchor="middle">0</text>
<line x1="675.72" y1="180.1" x2="675.72" y2="178.1" stroke="#7f7f7f" stroke-width="0.9"/>
<text x="675.72" y="191.4" font-size="13" text-anchor="middle">1</text>
<line x1="510.3" y1="172.39" x2="512.3" y2="172.39" stroke="#7f7f7f" stroke-width="0.9"/>
<text x="508.9" y="176.89" font-size="13" text-anchor="end">−4</text>
<line x1="510.3" y1="141.55" x2="512.3" y2="141.55" stroke="#7f7f7f" stroke-width="0.9"/>
<text x="508.9" y="146.05" font-size="13" text-anchor="end">−3</text>
<line x1="510.3" y1="110.72" x2="512.3" y2="110.72" stroke="#7f7f7f" stroke-width="0.9"/>
<text x="508.9" y="115.22" font-size="13" text-anchor="end">−2</text>
<line x1="510.3" y1="79.88" x2="512.3" y2="79.88" stroke="#7f7f7f" stroke-width="0.9"/>
<text x="508.9" y="84.38" font-size="13" text-anchor="end">−1</text>
<line x1="510.3" y1="49.05" x2="512.3" y2="49.05" stroke="#7f7f7f" stroke-width="0.9"/>
<text x="508.9" y="53.55" font-size="13" text-anchor="end">0</text>
<line x1="510.3" y1="18.21" x2="512.3" y2="18.21" stroke="#7f7f7f" stroke-width="0.9"/>
<text x="508.9" y="22.71" font-size="13" text-anchor="end">1</text>
<line x1="54.7" y1="398.5" x2="56.7" y2="398.5" stroke="#7f7f7f" stroke-width="0.9"/>
<text x="53.3" y="403" font-size="13" text-anchor="end">0.0</text>
<line x1="54.7" y1="364.88" x2="56.7" y2="364.88" stroke="#7f7f7f" stroke-width="0.9"/>
<text x="53.3" y="369.38" font-size="13" text-anchor="end">0.1</text>
<line x1="54.7" y1="331.26" x2="56.7" y2="331.26" stroke="#7f7f7f" stroke-width="0.9"/>
<text x="53.3" y="335.76" font-size="13" text-anchor="end">0.2</text>
<line x1="54.7" y1="297.64" x2="56.7" y2="297.64" stroke="#7f7f7f" stroke-width="0.9"/>
<text x="53.3" y="302.14" font-size="13" text-anchor="end">0.3</text>
<line x1="54.7" y1="264.02" x2="56.7" y2="264.02" stroke="#7f7f7f" stroke-width="0.9"/>
<text x="53.3" y="268.52" font-size="13" text-anchor="end">0.4</text>
<line x1="54.7" y1="230.4" x2="56.7" y2="230.4" stroke="#7f7f7f" stroke-width="0.9"/>
<text x="53.3" y="234.9" font-size="13" text-anchor="end">0.5</text>
<line x1="279.3" y1="398.5" x2="281.3" y2="398.5" stroke="#7f7f7f" stroke-width="0.9"/>
<text x="277.9" y="403" font-size="13" text-anchor="end">0.0</text>
<line x1="279.3" y1="364.88" x2="281.3" y2="364.88" stroke="#7f7f7f" stroke-width="0.9"/>
<text x="277.9" y="369.38" font-size="13" text-anchor="end">0.1</text>
<line x1="279.3" y1="331.26" x2="281.3" y2="331.26" stroke="#7f7f7f" stroke-width="0.9"/>
<text x="277.9" y="335.76" font-size="13" text-anchor="end">0.2</text>
<line x1="279.3" y1="297.64" x2="281.3" y2="297.64" stroke="#7f7f7f" stroke-width="0.9"/>
<text x="277.9" y="302.14" font-size="13" text-anchor="end">0.3</text>
<line x1="279.3" y1="264.02" x2="281.3" y2="264.02" stroke="#7f7f7f" stroke-width="0.9"/>
<text x="277.9" y="268.52" font-size="13" text-anchor="end">0.4</text>
<line x1="279.3" y1="230.4" x2="281.3" y2="230.4" stroke="#7f7f7f" stroke-width="0.9"/>
<text x="277.9" y="234.9" font-size="13" text-anchor="end">0.5</text>
<line x1="511.5" y1="398.5" x2="513.5" y2="398.5" stroke="#7f7f7f" stroke-width="0.9"/>
<text x="510.1" y="403" font-size="13" text-anchor="end">0.0</text>
<line x1="511.5" y1="364.88" x2="513.5" y2="364.88" stroke="#7f7f7f" stroke-width="0.9"/>
<text x="510.1" y="369.38" font-size="13" text-anchor="end">0.1</text>
<line x1="511.5" y1="331.26" x2="513.5" y2="331.26" stroke="#7f7f7f" stroke-width="0.9"/>
<text x="510.1" y="335.76" font-size="13" text-anchor="end">0.2</text>
<line x1="511.5" y1="297.64" x2="513.5" y2="297.64" stroke="#7f7f7f" stroke-width="0.9"/>
<text x="510.1" y="302.14" font-size="13" text-anchor="end">0.3</text>
<line x1="511.5" y1="264.02" x2="513.5" y2="264.02" stroke="#7f7f7f" stroke-width="0.9"/>
<text x="510.1" y="268.52" font-size="13" text-anchor="end">0.4</text>
<line x1="511.5" y1="230.4" x2="513.5" y2="230.4" stroke="#7f7f7f" stroke-width="0.9"/>
<text x="510.1" y="234.9" font-size="13" text-anchor="end">0.5</text>
<line x1="79.55" y1="398.5" x2="79.55" y2="396.5" stroke="#7f7f7f" stroke-width="0.9"/>
<text x="79.55" y="410.1" font-size="13" text-anchor="middle">ATL</text>
<line x1="120.8" y1="398.5" x2="120.8" y2="396.5" stroke="#7f7f7f" stroke-width="0.9"/>
<text x="120.8" y="410.1" font-size="13" text-anchor="middle">ELE</text>
<line x1="162.05" y1="398.5" x2="162.05" y2="396.5" stroke="#7f7f7f" stroke-width="0.9"/>
<text x="162.05" y="410.1" font-size="13" text-anchor="middle">GEO</text>
<line x1="203.3" y1="398.5" x2="203.3" y2="396.5" stroke="#7f7f7f" stroke-width="0.9"/>
<text x="203.3" y="410.1" font-size="13" text-anchor="middle">SYM</text>
<line x1="303.85" y1="398.5" x2="303.85" y2="396.5" stroke="#7f7f7f" stroke-width="0.9"/>
<text x="303.85" y="410.1" font-size="13" text-anchor="middle">SYM</text>
<line x1="345.1" y1="398.5" x2="345.1" y2="396.5" stroke="#7f7f7f" stroke-width="0.9"/>
<text x="345.1" y="410.1" font-size="13" text-anchor="middle">ATL</text>
<line x1="386.35" y1="398.5" x2="386.35" y2="396.5" stroke="#7f7f7f" stroke-width="0.9"/>
<text x="386.35" y="410.1" font-size="13" text-anchor="middle">ELE</text>
<line x1="427.6" y1="398.5" x2="427.6" y2="396.5" stroke="#7f7f7f" stroke-width="0.9"/>
<text x="427.6" y="410.1" font-size="13" text-anchor="middle">GEO</text>
<line x1="535.75" y1="398.5" x2="535.75" y2="396.5" stroke="#7f7f7f" stroke-width="0.9"/>
<text x="535.75" y="410.1" font-size="13" text-anchor="middle">ELE</text>
<line x1="577" y1="398.5" x2="577" y2="396.5" stroke="#7f7f7f" stroke-width="0.9"/>
<text x="577" y="410.1" font-size="13" text-anchor="middle">SYM</text>
<line x1="618.25" y1="398.5" x2="618.25" y2="396.5" stroke="#7f7f7f" stroke-width="0.9"/>
<text x="618.25" y="410.1" font-size="13" text-anchor="middle">ATL</text>
<line x1="659.5" y1="398.5" x2="659.5" y2="396.5" stroke="#7f7f7f" stroke-width="0.9"/>
<text x="659.5" y="410.1" font-size="13" text-anchor="middle">GEO</text>
<text x="0.5" y="17.5" font-size="21">(a)</text>
<text x="243" y="17.5" font-size="21">(b)</text>
<text x="467.5" y="22" font-size="21">(c)</text>
<text x="2" y="229.5" font-size="21">(d)</text>
<text x="233" y="229.5" font-size="21">(e)</text>
<text x="470" y="229.5" font-size="21">(f)</text>
<text x="122" y="206.2" font-size="13">DFT</text>
<g transform="translate(149.2,206.2)"><path d="M3.8 -6.9 L0.25 3.5 M1.75 -1.3 C1.4 0.3 3.0 0.35 4.2 0.1 C5.2 -0.1 5.9 -0.9 6.3 -1.6 M8.2 -6.9 L6.35 -0.9 C6.1 0.0 6.7 0.25 7.4 -0.3 L8.6 -1.5" fill="none" stroke="#0d0d0d" stroke-width="1.05" stroke-linecap="round"/><line x1="1.9" y1="-8.95" x2="9.7" y2="-8.95" stroke="#0d0d0d" stroke-width="0.95"/></g>
<text x="578.5" y="206.2" font-size="13">DFT</text>
<g transform="translate(605.7,206.2)"><path d="M3.8 -6.9 L0.25 3.5 M1.75 -1.3 C1.4 0.3 3.0 0.35 4.2 0.1 C5.2 -0.1 5.9 -0.9 6.3 -1.6 M8.2 -6.9 L6.35 -0.9 C6.1 0.0 6.7 0.25 7.4 -0.3 L8.6 -1.5" fill="none" stroke="#0d0d0d" stroke-width="1.05" stroke-linecap="round"/><line x1="1.9" y1="-8.95" x2="9.7" y2="-8.95" stroke="#0d0d0d" stroke-width="0.95"/></g>
<rect x="58.9" y="15.8" width="75.6" height="32.6" rx="2" fill="#fff" fill-opacity="0.8" stroke="#dadada" stroke-width="0.8"/>
<circle cx="73.4" cy="24.8" r="1.65" fill="#f2a060" fill-opacity="0.7"/>
<circle cx="73.4" cy="39.6" r="1.65" fill="#8fb4ee" fill-opacity="0.6"/>
<text x="92.5" y="27.9" font-size="10.2">Electron</text>
<text x="92.5" y="42.6" font-size="10.2">Hole</text>
<rect x="282.6" y="16.4" width="75" height="33.1" rx="2" fill="#fff" fill-opacity="0.8" stroke="#dadada" stroke-width="0.8"/>
<circle cx="297.1" cy="25.3" r="1.65" fill="#f2a060" fill-opacity="0.7"/>
<circle cx="297.1" cy="40.2" r="1.65" fill="#8fb4ee" fill-opacity="0.6"/>
<text x="316.3" y="28.8" font-size="10.2">Electron</text>
<text x="316.3" y="43.6" font-size="10.2">Hole</text>
<rect x="515.3" y="15.6" width="75.2" height="33" rx="2" fill="#fff" fill-opacity="0.8" stroke="#dadada" stroke-width="0.8"/>
<circle cx="529.4" cy="24.5" r="1.65" fill="#f2a060" fill-opacity="0.7"/>
<circle cx="529.4" cy="39.6" r="1.65" fill="#8fb4ee" fill-opacity="0.6"/>
<text x="547.8" y="27.9" font-size="10.2">Electron</text>
<text x="547.8" y="42.7" font-size="10.2">Hole</text>
<text x="65.6" y="66.8" font-size="12">DPT mobility</text>
<text x="290" y="65.0" font-size="12">Anisotropy</text>
<text x="521.6" y="66.9" font-size="12">EPC mobility</text>
<text x="521.6" y="81.5" font-size="12">of TMDs</text>
<text x="219.9" y="119.1" font-size="12.6" text-anchor="end">R<tspan font-size="8.0" dy="-4.0">2</tspan><tspan font-size="8.0" dy="7.7">hole</tspan><tspan dy="-3.7">= 0.90</tspan></text>
<text x="219.9" y="136.8" font-size="12.6" text-anchor="end">MAE<tspan font-size="8.0" dy="3.7">hole</tspan><tspan dy="-3.7">= 0.19</tspan></text>
<text x="219.9" y="154.1" font-size="12.6" text-anchor="end">R<tspan font-size="8.0" dy="-4.0">2</tspan><tspan font-size="8.0" dy="7.7">electron</tspan><tspan dy="-3.7">= 0.88</tspan></text>
<text x="219.9" y="170.9" font-size="12.6" text-anchor="end">MAE<tspan font-size="8.0" dy="3.7">electron</tspan><tspan dy="-3.7">= 0.19</tspan></text>
<text x="446" y="116.6" font-size="12.6" text-anchor="end">R<tspan font-size="8.0" dy="-4.0">2</tspan><tspan font-size="8.0" dy="7.7">hole</tspan><tspan dy="-3.7">= 0.89</tspan></text>
<text x="446" y="134.8" font-size="12.6" text-anchor="end">MAE<tspan font-size="8.0" dy="3.7">hole</tspan><tspan dy="-3.7">= 0.13</tspan></text>
<text x="446" y="152.2" font-size="12.6" text-anchor="end">R<tspan font-size="8.0" dy="-4.0">2</tspan><tspan font-size="8.0" dy="7.7">electron</tspan><tspan dy="-3.7">= 0.89</tspan></text>
<text x="446" y="169.8" font-size="12.6" text-anchor="end">MAE<tspan font-size="8.0" dy="3.7">electron</tspan><tspan dy="-3.7">= 0.11</tspan></text>
<text x="677.3" y="117" font-size="12.6" text-anchor="end">R<tspan font-size="8.0" dy="-4.0">2</tspan><tspan font-size="8.0" dy="7.7">hole</tspan><tspan dy="-3.7">= 0.89</tspan></text>
<text x="677.3" y="135.5" font-size="12.6" text-anchor="end">MAE<tspan font-size="8.0" dy="3.7">hole</tspan><tspan dy="-3.7">= 0.28</tspan></text>
<text x="677.3" y="153.5" font-size="12.6" text-anchor="end">R<tspan font-size="8.0" dy="-4.0">2</tspan><tspan font-size="8.0" dy="7.7">electron</tspan><tspan dy="-3.7">= 0.95</tspan></text>
<text x="677.3" y="172" font-size="12.6" text-anchor="end">MAE<tspan font-size="8.0" dy="3.7">electron</tspan><tspan dy="-3.7">= 0.12</tspan></text>
<text x="345.5" y="206.2" font-size="13">DFT</text>
<text x="374.8" y="205.8" font-size="14" font-family='"Liberation Serif", serif' font-style="italic">A</text>
<text transform="translate(32.3,128.5) rotate(-90)" font-size="13">Predicted</text>
<g transform="translate(32.3,71.9) rotate(-90)"><path d="M3.8 -6.9 L0.25 3.5 M1.75 -1.3 C1.4 0.3 3.0 0.35 4.2 0.1 C5.2 -0.1 5.9 -0.9 6.3 -1.6 M8.2 -6.9 L6.35 -0.9 C6.1 0.0 6.7 0.25 7.4 -0.3 L8.6 -1.5" fill="none" stroke="#0d0d0d" stroke-width="1.05" stroke-linecap="round"/><line x1="1.9" y1="-8.95" x2="9.7" y2="-8.95" stroke="#0d0d0d" stroke-width="0.95"/></g>
<text transform="translate(263.1,128.5) rotate(-90)" font-size="13">Predicted</text>
<text transform="translate(263.3,70.9) rotate(-90)" font-size="14" font-family='"Liberation Serif", serif' font-style="italic">A</text>
<text transform="translate(488.8,128.5) rotate(-90)" font-size="13">Predicted</text>
<g transform="translate(488.8,71.9) rotate(-90)"><path d="M3.8 -6.9 L0.25 3.5 M1.75 -1.3 C1.4 0.3 3.0 0.35 4.2 0.1 C5.2 -0.1 5.9 -0.9 6.3 -1.6 M8.2 -6.9 L6.35 -0.9 C6.1 0.0 6.7 0.25 7.4 -0.3 L8.6 -1.5" fill="none" stroke="#0d0d0d" stroke-width="1.05" stroke-linecap="round"/><line x1="1.9" y1="-8.95" x2="9.7" y2="-8.95" stroke="#0d0d0d" stroke-width="0.95"/></g>
<text transform="translate(31.5,315.4) rotate(-90)" font-size="13" text-anchor="middle">Importance</text>
<text x="141.15" y="424.0" font-size="13" text-anchor="middle">Feature sets</text>
<text transform="translate(256.1,315.4) rotate(-90)" font-size="13" text-anchor="middle">Importance</text>
<text x="365.45" y="424.0" font-size="13" text-anchor="middle">Feature sets</text>
<text transform="translate(488.3,315.4) rotate(-90)" font-size="13" text-anchor="middle">Importance</text>
<text x="597.55" y="424.0" font-size="13" text-anchor="middle">Feature sets</text>
<rect x="147.3" y="235.6" width="75.2" height="32.2" rx="2" fill="#fff" fill-opacity="0.8" stroke="#dadada" stroke-width="0.8"/>
<rect x="151.6" y="239.9" width="21" height="7.2" fill="#f5bd77"/>
<rect x="151.6" y="254.6" width="21" height="7.2" fill="#a3c1e9"/>
<text x="180.9" y="247.3" font-size="10.2">Electron</text>
<text x="180.9" y="261.7" font-size="10.2">Hole</text>
<rect x="371.5" y="235.7" width="75.1" height="31.9" rx="2" fill="#fff" fill-opacity="0.8" stroke="#dadada" stroke-width="0.8"/>
<rect x="375.9" y="239.9" width="21" height="7.2" fill="#f5bd77"/>
<rect x="375.9" y="254.6" width="21" height="7.2" fill="#a3c1e9"/>
<text x="405.3" y="247.3" font-size="10.2">Electron</text>
<text x="405.3" y="261.7" font-size="10.2">Hole</text>
<rect x="603.4" y="235.7" width="75.2" height="31.5" rx="2" fill="#fff" fill-opacity="0.8" stroke="#dadada" stroke-width="0.8"/>
<rect x="607.8" y="240" width="21" height="7.2" fill="#f5bd77"/>
<rect x="607.8" y="254.8" width="21" height="7.2" fill="#a3c1e9"/>
<text x="637" y="247.3" font-size="10.2">Electron</text>
<text x="637" y="261.7" font-size="10.2">Hole</text>
<text x="128.4" y="285.6" font-size="12">DPT mobility</text>
<text x="293.1" y="252.7" font-size="12">Anisotropy</text>
<text x="603.8" y="281.1" font-size="12">EPC mobility</text>
<text x="603.8" y="294.9" font-size="12">of TMDs</text>
</svg></body></html>
